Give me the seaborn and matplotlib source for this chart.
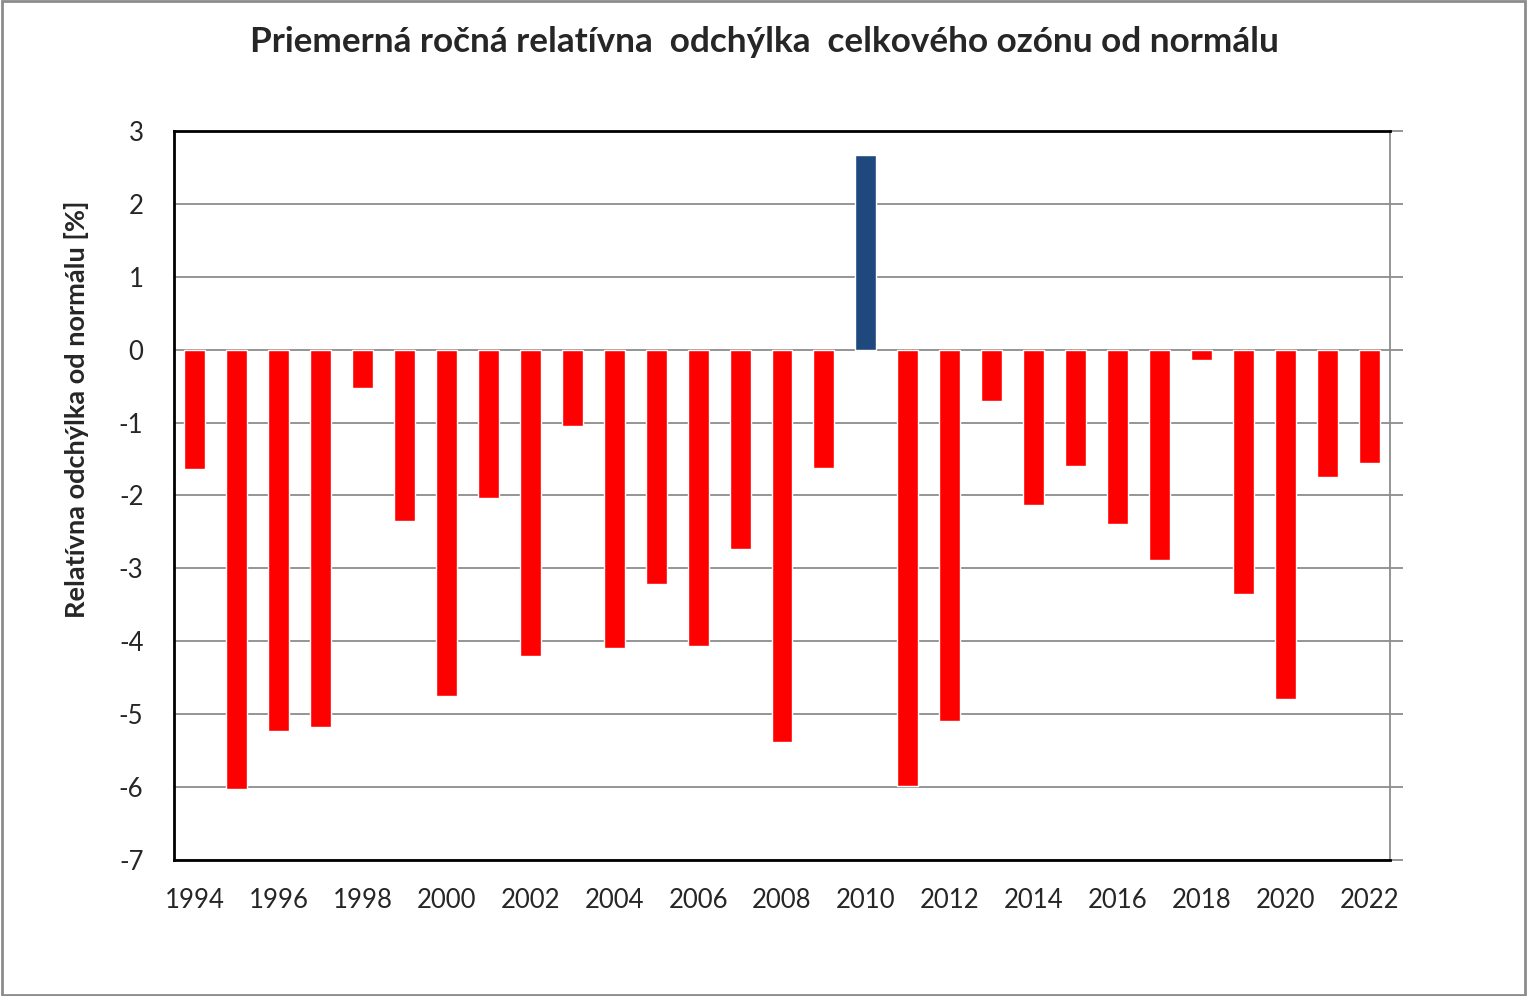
import matplotlib
matplotlib.use("Agg")
import matplotlib.pyplot as plt
import seaborn as sns
import pandas as pd

years = list(range(1994, 2023))
values = [-1.63, -6.02, -5.23, -5.17, -0.52, -2.35, -4.75, -2.03, -4.20, -1.04,
          -4.09, -3.21, -4.06, -2.74, -5.38, -1.62, 2.67, -5.99, -5.09, -0.70,
          -2.13, -1.59, -2.39, -2.89, -0.14, -3.35, -4.79, -1.74, -1.56]
yticks = [3, 2, 1, 0, -1, -2, -3, -4, -5, -6, -7]
title = "Priemerná ročná relatívna  odchýlka  celkového ozónu od normálu"
ylabel = "Relatívna odchýlka od normálu [%]"

sns.set_theme(style="white")
plt.rcParams['font.family'] = ['Lato', 'DejaVu Sans']

df = pd.DataFrame({"year": [str(y) for y in years], "value": values})
df["sign"] = ["pos" if v > 0 else "neg" for v in values]

fig = plt.figure(figsize=(15.27, 9.96), dpi=100)
ax = fig.add_axes([174/1527, 1-860/996, (1390-174)/1527, (860-131)/996])

sns.barplot(data=df, x="year", y="value", hue="sign",
            palette={"neg": "#FF0000", "pos": "#1F497D"},
            width=0.5, dodge=False, legend=False, ax=ax, saturation=1)

ax.set_ylim(-7, 3)
ax.set_xlim(-0.5, len(years) - 0.5)
ax.set_yticks(yticks)
ax.set_yticklabels([str(t) for t in yticks], fontsize=18.5)
ax.set_xticks(range(0, len(years), 2))
ax.set_xticklabels([str(y) for y in years[::2]], fontsize=18.5)
ax.yaxis.grid(True, color="#8C8C8C", linewidth=1.3)
ax.set_axisbelow(True)
ax.tick_params(axis="y", left=False, right=True, labelleft=True, labelright=False,
               length=9, width=1.3, color="#8C8C8C", direction="out", pad=13)
ax.tick_params(axis="x", bottom=False, pad=14)
ax.set_xlabel("")
ax.set_ylabel(ylabel, fontsize=19.5, fontweight="bold", va="center")
ax.yaxis.set_label_coords((77 - 174) / 1216, (860 - 409) / 729)

for s in ["left", "top", "bottom"]:
    ax.spines[s].set_color("black")
    ax.spines[s].set_linewidth(2)
ax.spines["right"].set_color("#8C8C8C")
ax.spines["right"].set_linewidth(1.3)

fig.text(764/1527, 1-42/996, title, ha="center", va="center",
         fontsize=25.3, fontweight="bold")

fig.patches.append(plt.Rectangle((0.001, 0.001), 0.998, 0.998, transform=fig.transFigure,
                                 fill=False, edgecolor="#8C8C8C", linewidth=2))

fig.savefig("out.png", dpi=100, facecolor="white")
